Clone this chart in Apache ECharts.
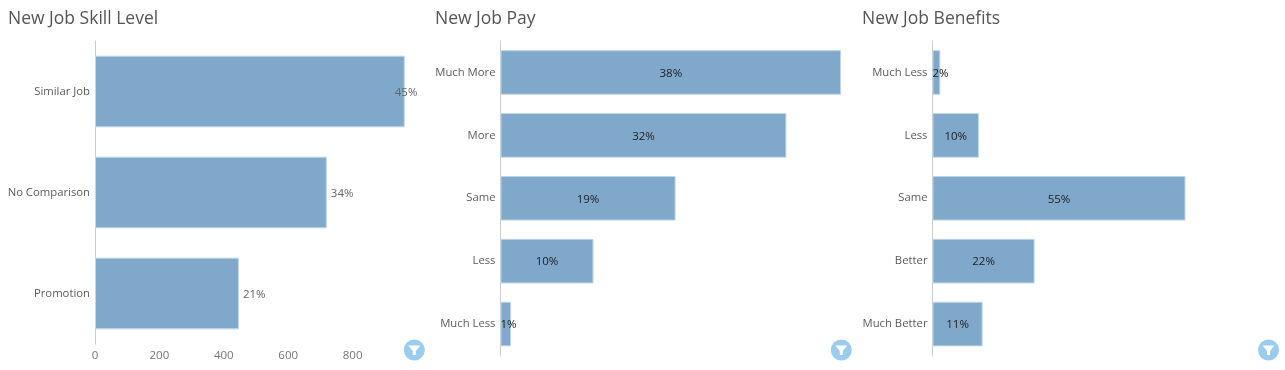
<!DOCTYPE html>
<html>
<head>
<meta charset="utf-8">
<title>New Job</title>
<style>
    html, body { margin: 0; padding: 0; background: #fff; }
    #main { width: 1285px; height: 370px; }
</style>
</head>
<body>
<div id="main"></div>
<script src="https://cdn.jsdelivr.net/npm/echarts@6/dist/echarts.min.js"></script>
<script>
const skillCategories = ["Similar Job", "No Comparison", "Promotion"];
const skillValues = [962, 720, 447];
const skillPercents = ["45%", "34%", "21%"];
const skillTicks = [0, 200, 400, 600, 800];

const payCategories = ["Much More", "More", "Same", "Less", "Much Less"];
const payValues = [996, 836, 512, 272, 31];
const payPercents = ["38%", "32%", "19%", "10%", "1%"];

const benefitCategories = ["Much Less", "Less", "Same", "Better", "Much Better"];
const benefitValues = [17, 101, 550, 222, 109];
const benefitPercents = ["2%", "10%", "55%", "22%", "11%"];

const titles = ["New Job Skill Level", "New Job Pay", "New Job Benefits"];

const FONT = "'Open Sans', sans-serif";
const BAR_COLOR = "#7fa8cb";

function titleOf(text, left) {
    return {
        text: text,
        left: left,
        top: 10,
        padding: 0,
        textStyle: { fontFamily: FONT, fontSize: 17.5, fontWeight: "normal", color: "#555" }
    };
}

function categoryAxis(idx, list) {
    return {
        type: "category",
        gridIndex: idx,
        data: list,
        inverse: true,
        axisTick: { show: false },
        axisLine: { lineStyle: { color: "#ccc", width: 1 } },
        axisLabel: { margin: 5, padding: [3, 0, 0, 0], fontFamily: FONT, fontSize: 11.3, color: "#5c5c5c" }
    };
}

function valueAxis(idx, max, showLabels) {
    return {
        type: "value",
        gridIndex: idx,
        min: 0,
        max: max,
        interval: 200,
        axisLine: { show: false },
        axisTick: { show: false },
        splitLine: { show: false },
        axisLabel: {
            show: showLabels,
            margin: 6,
            fontFamily: FONT,
            fontSize: 11.5,
            color: "#777",
            // the 1000 label sits behind the filter button in the original
            formatter: (v) => (skillTicks.indexOf(v) >= 0 ? String(v) : "")
        }
    };
}

function barSeries(idx, values, percents, labelFor, barWidth) {
    return {
        type: "bar",
        xAxisIndex: idx,
        yAxisIndex: idx,
        barWidth: barWidth,
        itemStyle: { color: BAR_COLOR, borderColor: "#c2d7ea", borderWidth: 1 },
        data: values.map((v, i) => ({
            value: v,
            label: Object.assign({
                show: true,
                fontFamily: FONT,
                fontSize: 11.5,
                formatter: percents[i]
            }, labelFor(i))
        })),
        silent: true
    };
}

function filterButton(cx) {
    const cy = 350;
    return {
        type: "group",
        x: cx,
        y: cy,
        z: 100,
        children: [
            { type: "circle", shape: { cx: 0, cy: 0, r: 10.5 }, style: { fill: "#9accf0" } },
            {
                type: "polygon",
                shape: { points: [[-6, -4.5], [6, -4.5], [1.5, 1], [1.5, 5], [-1.5, 5], [-1.5, 1]] },
                style: { fill: "#fff" }
            }
        ]
    };
}

const dark = { color: "#222" };
const grey = { color: "#666" };

const options = {
    backgroundColor: "#fff",
    animation: false,
    title: [titleOf(titles[0], 8), titleOf(titles[1], 435), titleOf(titles[2], 862)],
    grid: [
        { left: 95, top: 41, width: 322, height: 303 },
        { left: 500.5, top: 41, width: 342, height: 314.5 },
        { left: 932.5, top: 41, width: 276, height: 314.5 }
    ],
    xAxis: [
        valueAxis(0, 1000, true),
        valueAxis(1, 1000, false),
        valueAxis(2, 600, false)
    ],
    yAxis: [
        categoryAxis(0, skillCategories),
        categoryAxis(1, payCategories),
        categoryAxis(2, benefitCategories)
    ],
    series: [
        barSeries(0, skillValues, skillPercents, (i) => (
            i === 0
                ? Object.assign({ position: "right", offset: [-15, 1] }, grey)
                : Object.assign({ position: "right", distance: 5, offset: [-1, 1] }, grey)
        ), "71%"),
        barSeries(1, payValues, payPercents, (i) => (
            payValues[i] < 50
                ? Object.assign({ position: "insideLeft", distance: 0, offset: [0, 1] }, dark)
                : Object.assign({ position: "inside", offset: [0, 1] }, dark)
        ), "71%"),
        barSeries(2, benefitValues, benefitPercents, (i) => (
            benefitValues[i] < 50
                ? Object.assign({ position: "insideLeft", distance: 0, offset: [0, 1] }, dark)
                : Object.assign({ position: "inside", offset: [0, 1] }, dark)
        ), "71%")
    ],
    graphic: [filterButton(414.3), filterButton(841.3), filterButton(1268.5)]
};

const chart = echarts.init(document.getElementById("main"));
chart.setOption(options);
</script>
</body>
</html>
